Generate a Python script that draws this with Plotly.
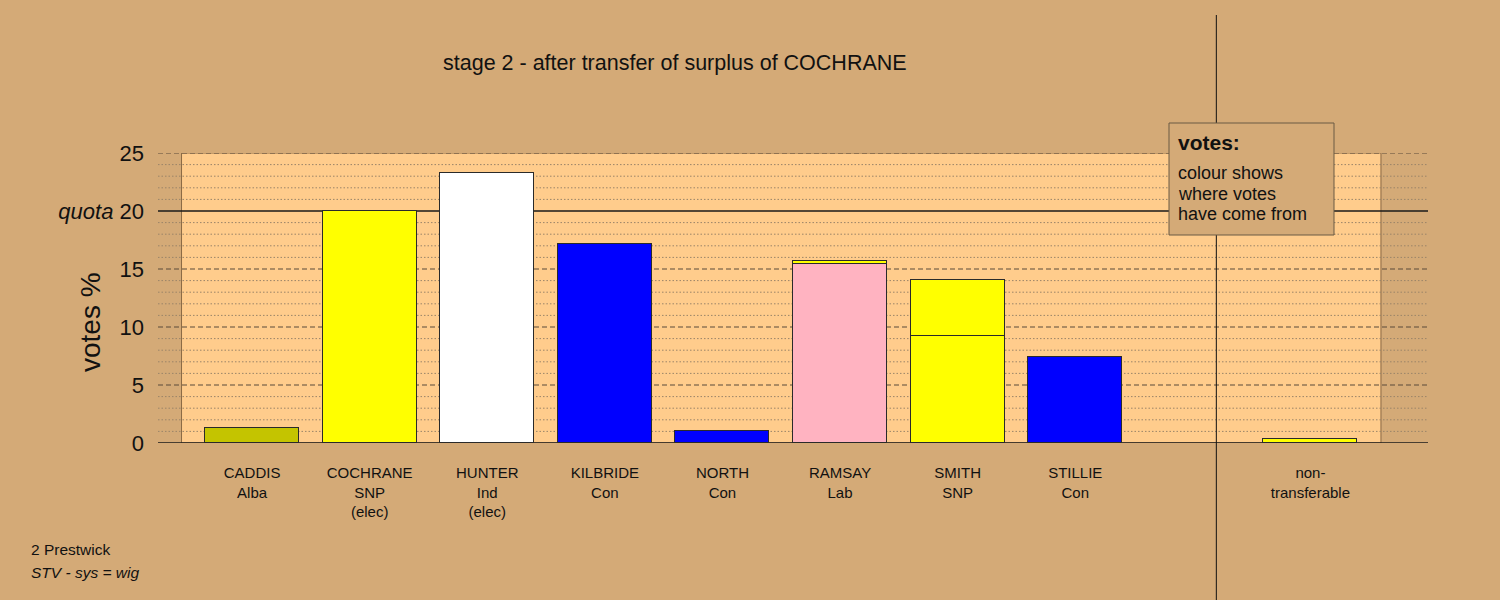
import plotly.graph_objects as go

# ---- data ----
candidates = ["CADDIS", "COCHRANE", "HUNTER", "KILBRIDE", "NORTH", "RAMSAY", "SMITH", "STILLIE", "non-"]
sublabels = ["Alba", "SNP<br>(elec)", "Ind<br>(elec)", "Con", "Con", "Lab", "SNP", "Con", "transferable"]
positions = [0, 1, 2, 3, 4, 5, 6, 7, 9]
own_votes = [1.3, 20.0, 23.28, 17.15, 1.03, 15.4, 9.25, 7.4, 0.0]
own_colors = ["#C4C400", "#FFFF00", "#FFFFFF", "#0000FF", "#0000FF", "#FFB3C1", "#FFFF00", "#0000FF", "#FFFF00"]
from_cochrane = [0.0, 0.0, 0.0, 0.0, 0.0, 0.25, 4.78, 0.0, 0.32]
quota = 20
y_ticks = [0, 5, 10, 15, 20, 25]
legend_lines = ["colour shows", "where votes", "have come from"]

BG = "#D4AA77"
PANEL = "#FFCC8C"
FONT = "Liberation Sans, Arial, sans-serif"


def px(xp):
    return (xp - 158) / 1270


def py(yp):
    return (443 - yp) / 290


fig = go.Figure()
fig.add_trace(go.Bar(x=positions, y=own_votes, width=0.8,
                     marker=dict(color=own_colors, line=dict(color="#2a2a2a", width=1)),
                     name="own", showlegend=False, hoverinfo="y"))
fig.add_trace(go.Bar(x=positions, y=from_cochrane, width=0.8,
                     marker=dict(color="#FFFF00", line=dict(color="#2a2a2a", width=1)),
                     name="from COCHRANE", showlegend=False, hoverinfo="y"))

shapes = []
# panel
shapes.append(dict(type="rect", xref="x", yref="y", x0=-0.6, x1=9.6, y0=0, y1=25,
                   fillcolor=PANEL, line=dict(color="#8B6A45", width=1), layer="below"))
# grid lines
for v in range(0, 26):
    if v in (0, quota):
        dash, col, w = "solid", "#1a1a1a", 1.5
    elif v % 5 == 0:
        dash, col, w = "5px,3px", "#5a4a3a", 1.2
    else:
        dash, col, w = "1.5px,2px", "#9a8468", 1
    shapes.append(dict(type="line", xref="x", yref="y", x0=-0.8, x1=10.0, y0=v, y1=v,
                       line=dict(color=col, width=w, dash=dash), layer="below"))
# separator line for non-transferable
shapes.append(dict(type="line", xref="x", yref="paper", x0=8.2, x1=8.2, y0=py(600), y1=py(15),
                   line=dict(color="#111111", width=1), layer="above"))
# legend box
shapes.append(dict(type="rect", xref="paper", yref="paper",
                   x0=px(1169), x1=px(1334), y0=py(235), y1=py(123),
                   fillcolor=BG, line=dict(color="#6b5a45", width=1), layer="above"))

annotations = [
    dict(text="stage 2 - after transfer of surplus of COCHRANE", xref="paper", yref="paper",
         x=px(675), y=py(63), showarrow=False,
         font=dict(size=21.5, color="#111111"), xanchor="center", yanchor="middle"),
    dict(text="votes %", xref="paper", yref="paper", x=px(90), y=py(322),
         textangle=-90, showarrow=False, font=dict(size=28, color="#111111"),
         xanchor="center", yanchor="middle"),
    dict(text="<b>votes:</b>", xref="paper", yref="paper", x=px(1176), y=py(142),
         showarrow=False, font=dict(size=21, color="#111111"), xanchor="left", yanchor="middle"),
    dict(text="2 Prestwick", xref="paper", yref="paper", x=px(29), y=py(549),
         showarrow=False, font=dict(size=15.5, color="#111111"), xanchor="left", yanchor="middle"),
    dict(text="<i>STV - sys = wig</i>", xref="paper", yref="paper", x=px(29), y=py(572),
         showarrow=False, font=dict(size=15.5, color="#111111"), xanchor="left", yanchor="middle"),
]
for i, line in enumerate(legend_lines):
    annotations.append(dict(text=line, xref="paper", yref="paper", x=px(1176), y=py(173 + 20.5 * i),
                            showarrow=False, font=dict(size=18, color="#111111"),
                            xanchor="left", yanchor="middle"))

ticktext = [f"{c}<br>{s}" for c, s in zip(candidates, sublabels)]
ytext = [("<i>quota</i> " if v == quota else "") + str(v) for v in y_ticks]

fig.update_layout(
    width=1500, height=600,
    margin=dict(l=158, r=72, t=153, b=157, autoexpand=False),
    paper_bgcolor=BG, plot_bgcolor=BG,
    barmode="stack", bargap=0,
    font=dict(family=FONT, color="#111111"),
    shapes=shapes, annotations=annotations,
    xaxis=dict(range=[-0.8, 10.0], tickvals=positions, ticktext=ticktext, showgrid=False,
               zeroline=False, showline=False, ticks="", tickfont=dict(size=15),
               ticklabelstandoff=19, fixedrange=True),
    yaxis=dict(range=[0, 25], tickvals=y_ticks, ticktext=ytext, showgrid=False, zeroline=False,
               showline=False, ticks="", tickfont=dict(size=22), ticklabelstandoff=13,
               fixedrange=True),
)

fig.write_html("out.html", config={"displayModeBar": False},
               post_script="document.body.style.margin='0';document.body.style.overflow='hidden';")
